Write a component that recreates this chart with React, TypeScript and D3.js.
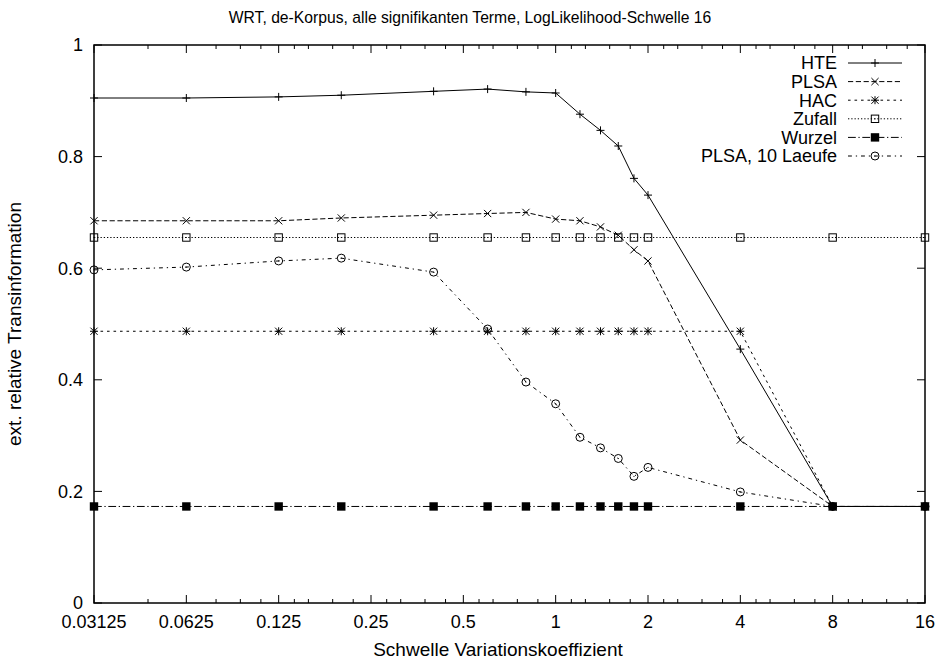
import React from "react";
import * as d3 from "d3";

const X_VALUES = [0.03125, 0.0625, 0.125, 0.2, 0.4, 0.6, 0.8, 1, 1.2, 1.4, 1.6, 1.8, 2, 4, 8, 16];
const HTE = [0.905, 0.905, 0.907, 0.910, 0.917, 0.921, 0.916, 0.914, 0.876, 0.847, 0.819, 0.761, 0.731, 0.455, 0.173, 0.173];
const PLSA = [0.685, 0.685, 0.685, 0.690, 0.695, 0.698, 0.700, 0.688, 0.685, 0.674, 0.659, 0.633, 0.613, 0.292, 0.173, 0.173];
const HAC = [0.487, 0.487, 0.487, 0.487, 0.487, 0.487, 0.487, 0.487, 0.487, 0.487, 0.487, 0.487, 0.487, 0.487, 0.173, 0.173];
const ZUFALL = [0.655, 0.655, 0.655, 0.655, 0.655, 0.655, 0.655, 0.655, 0.655, 0.655, 0.655, 0.655, 0.655, 0.655, 0.655, 0.655];
const WURZEL = [0.173, 0.173, 0.173, 0.173, 0.173, 0.173, 0.173, 0.173, 0.173, 0.173, 0.173, 0.173, 0.173, 0.173, 0.173, 0.173];
const PLSA10 = [0.597, 0.602, 0.613, 0.618, 0.593, 0.491, 0.396, 0.357, 0.297, 0.278, 0.259, 0.227, 0.243, 0.199, 0.173, 0.173];

const SERIES_NAMES = ["HTE", "PLSA", "HAC", "Zufall", "Wurzel", "PLSA, 10 Laeufe"];
const SERIES_VALUES = [HTE, PLSA, HAC, ZUFALL, WURZEL, PLSA10];

const X_TICKS = [0.03125, 0.0625, 0.125, 0.25, 0.5, 1, 2, 4, 8, 16];
const X_TICK_LABELS = ["0.03125", "0.0625", "0.125", "0.25", "0.5", "1", "2", "4", "8", "16"];
const X_MINOR_TICKS = [
  0.046875, 0.078125, 0.09375, 0.109375, 0.140625, 0.15625, 0.1875, 0.21875,
  0.28125, 0.3125, 0.375, 0.4375, 0.5625, 0.625, 0.75, 0.875, 1.125, 1.25, 1.5, 1.75,
  2.25, 2.5, 3, 3.5, 4.5, 5, 6, 7, 9, 10, 12, 14,
];
const Y_TICKS = [0, 0.2, 0.4, 0.6, 0.8, 1];
const Y_TICK_LABELS = ["0", "0.2", "0.4", "0.6", "0.8", "1"];

const TITLE = "WRT, de-Korpus, alle signifikanten Terme, LogLikelihood-Schwelle 16";
const X_LABEL = "Schwelle Variationskoeffizient";
const Y_LABEL = "ext. relative Transinformation";

const W = 940;
const H = 663;
const PLOT = { left: 94, right: 925, top: 45, bottom: 603 };
const FONT = "'Liberation Sans', Arial, Helvetica, sans-serif";
const FS = 18;
const DASH_UNIT = 1.3;
const DASHES = [
  "",
  [4, 2].map((d) => d * DASH_UNIT).join(","),
  [2, 3].map((d) => d * DASH_UNIT).join(","),
  [1, 1.5].map((d) => d * DASH_UNIT).join(","),
  [6, 2, 1, 2].map((d) => d * DASH_UNIT).join(","),
  [3, 3, 1, 3].map((d) => d * DASH_UNIT).join(","),
];

function Marker({ type, x, y }: { type: number; x: number; y: number }) {
  const s = 4;
  const c = 3.6;
  const q = 3.7;
  const common = { stroke: "#000", strokeWidth: 1, fill: "none" };
  switch (type) {
    case 0:
      return <path d={`M${x - s},${y}H${x + s}M${x},${y - s}V${y + s}`} {...common} />;
    case 1:
      return <path d={`M${x - c},${y - c}L${x + c},${y + c}M${x - c},${y + c}L${x + c},${y - c}`} {...common} />;
    case 2:
      return (
        <path
          d={`M${x - s},${y}H${x + s}M${x},${y - s}V${y + s}M${x - c},${y - c}L${x + c},${y + c}M${x - c},${y + c}L${x + c},${y - c}`}
          {...common}
        />
      );
    case 3:
      return (
        <g>
          <rect x={x - q} y={y - q} width={2 * q} height={2 * q} {...common} />
          <circle cx={x} cy={y} r={0.6} fill="#000" />
        </g>
      );
    case 4:
      return <rect x={x - 4.2} y={y - 4.2} width={8.4} height={8.4} fill="#000" />;
    default:
      return (
        <g>
          <circle cx={x} cy={y} r={4} {...common} />
          <circle cx={x} cy={y} r={0.6} fill="#000" />
        </g>
      );
  }
}

export default function App() {
  const x = d3.scaleLog().base(2).domain([0.03125, 16]).range([PLOT.left, PLOT.right]);
  const y = d3.scaleLinear().domain([0, 1]).range([PLOT.bottom, PLOT.top]);
  const line = d3
    .line<number>()
    .x((_, i) => x(X_VALUES[i]))
    .y((v) => y(v));

  const legendTextX = 837;
  const legendLine = [848, 902];
  const legendY0 = 63;
  const legendStep = 18.6;

  return (
    <svg
      width={W}
      height={H}
      viewBox={`0 0 ${W} ${H}`}
      style={{ position: "absolute", left: 0, top: 0, background: "#fff" }}
      fontFamily={FONT}
      fontSize={FS}
    >
      <rect x={0} y={0} width={W} height={H} fill="#fff" />
      <text x={470} y={23} textAnchor="middle" fontSize={15.7}>
        {TITLE}
      </text>

      {/* ticks */}
      {X_TICKS.map((t, i) => (
        <g key={`xt${i}`}>
          <line x1={x(t)} x2={x(t)} y1={PLOT.bottom} y2={PLOT.bottom - 8} stroke="#000" strokeWidth={1} />
          <line x1={x(t)} x2={x(t)} y1={PLOT.top} y2={PLOT.top + 8} stroke="#000" strokeWidth={1} />
          <text x={x(t)} y={628} textAnchor="middle">
            {X_TICK_LABELS[i]}
          </text>
        </g>
      ))}
      {X_MINOR_TICKS.map((t, i) => (
        <g key={`xm${i}`}>
          <line x1={x(t)} x2={x(t)} y1={PLOT.bottom} y2={PLOT.bottom - 4} stroke="#000" strokeWidth={1} />
          <line x1={x(t)} x2={x(t)} y1={PLOT.top} y2={PLOT.top + 4} stroke="#000" strokeWidth={1} />
        </g>
      ))}
      {Y_TICKS.map((t, i) => (
        <g key={`yt${i}`}>
          <line x1={PLOT.left} x2={PLOT.left + 8} y1={y(t)} y2={y(t)} stroke="#000" strokeWidth={1} />
          <line x1={PLOT.right} x2={PLOT.right - 8} y1={y(t)} y2={y(t)} stroke="#000" strokeWidth={1} />
          <text x={83} y={y(t) + 6.3} textAnchor="end">
            {Y_TICK_LABELS[i]}
          </text>
        </g>
      ))}

      {/* series */}
      {SERIES_VALUES.map((vals, si) => (
        <g key={`s${si}`}>
          <path d={line(vals) || ""} fill="none" stroke="#000" strokeWidth={1} strokeDasharray={DASHES[si]} />
          {vals.map((v, i) => (
            <Marker key={i} type={si} x={x(X_VALUES[i])} y={y(v)} />
          ))}
        </g>
      ))}

      {/* border */}
      <rect
        x={PLOT.left}
        y={PLOT.top}
        width={PLOT.right - PLOT.left}
        height={PLOT.bottom - PLOT.top}
        fill="none"
        stroke="#000"
        strokeWidth={1.5}
      />

      {/* legend */}
      {SERIES_NAMES.map((name, si) => {
        const ly = legendY0 + si * legendStep;
        return (
          <g key={`l${si}`}>
            <text x={legendTextX} y={ly + 6.3} textAnchor="end">
              {name}
            </text>
            <line
              x1={legendLine[0]}
              x2={legendLine[1]}
              y1={ly}
              y2={ly}
              stroke="#000"
              strokeWidth={1}
              strokeDasharray={DASHES[si]}
            />
            <Marker type={si} x={(legendLine[0] + legendLine[1]) / 2} y={ly} />
          </g>
        );
      })}

      <text x={498} y={656} textAnchor="middle" fontSize={19}>
        {X_LABEL}
      </text>
      <text
        transform={`translate(21, ${(PLOT.top + PLOT.bottom) / 2}) rotate(-90)`}
        textAnchor="middle"
        fontSize={19}
      >
        {Y_LABEL}
      </text>
    </svg>
  );
}
